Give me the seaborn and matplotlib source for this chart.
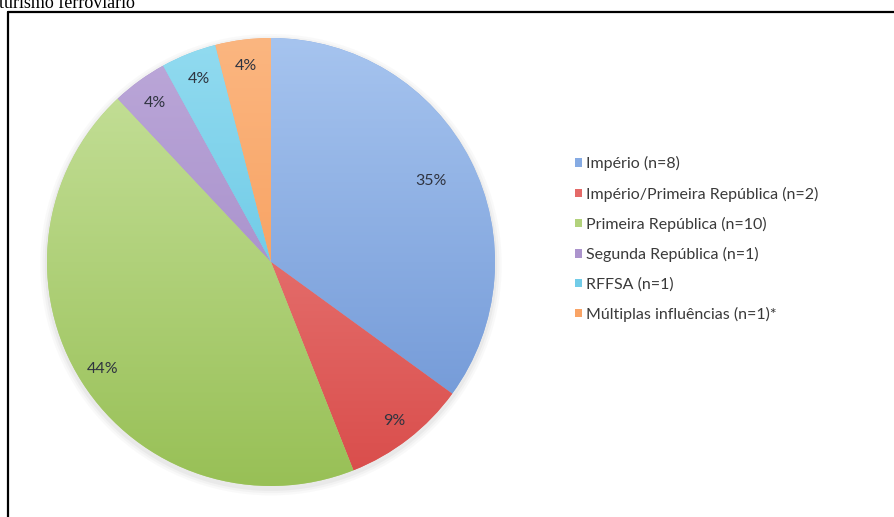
import numpy as np
import matplotlib
matplotlib.use("Agg")
import matplotlib.pyplot as plt
import seaborn as sns
from matplotlib.colors import LinearSegmentedColormap
from matplotlib.lines import Line2D
from matplotlib.patches import Circle

# =========================================================
# DATA
# =========================================================

labels = [
    "Império (n=8)",
    "Império/Primeira República (n=2)",
    "Primeira República (n=10)",
    "Segunda República (n=1)",
    "RFFSA (n=1)",
    "Múltiplas influências (n=1)*",
]
shares = [35, 9, 44, 4, 4, 4]

# light (top) / dark (bottom) shade per slice
light_colors = ["#A6C4EF", "#EE8C8A", "#C8E29E", "#BCA8D9", "#92DBF0", "#FBB680"]
dark_colors = ["#6A92D3", "#D94C4A", "#98C056", "#9A80C2", "#52BDDF", "#F6924A"]
mid_colors = ["#86ABE3", "#E46A68", "#B2D27C", "#AC94CD", "#72CCE8", "#F9A466"]

label_dist = [0.80, 0.90, 0.89, 0.88, 0.88, 0.88]

# =========================================================
# FIGURE
# =========================================================

sns.set_theme(style="white")
plt.rcParams["font.family"] = ["Lato", "DejaVu Sans"]

W, H = 894, 517
fig = plt.figure(figsize=(W / 100, H / 100), dpi=100)
fig.patch.set_facecolor("white")

cx, cy, R = 271, 262, 224
ax = fig.add_axes([(cx - R) / W, (H - cy - R) / H, 2 * R / W, 2 * R / H])

# soft shadow under the pie
for k, a in zip([1.030, 1.020, 1.010], [0.04, 0.05, 0.07]):
    ax.add_patch(Circle((0, -0.012), k, facecolor="#7a7a7a", edgecolor="none",
                        alpha=a, zorder=0.5, clip_on=False))

wedges, texts, autotexts = ax.pie(
    shares,
    colors=mid_colors,
    startangle=90,
    counterclock=False,
    autopct=lambda p: f"{p:.0f}%",
    pctdistance=0.88,
    wedgeprops=dict(linewidth=0),
    textprops=dict(fontsize=11.5, color="#2f3440"),
)

# vertical gradient inside each slice
grad = np.linspace(0, 1, 256).reshape(-1, 1)
for w, c_lo, c_hi in zip(wedges, dark_colors, light_colors):
    cmap = LinearSegmentedColormap.from_list("g", [c_lo, c_hi])
    im = ax.imshow(grad, cmap=cmap, extent=[-1, 1, -1, 1], origin="lower",
                   aspect="auto", zorder=1.5, interpolation="bilinear")
    im.set_clip_path(w)

# place the percent labels
for t, d in zip(autotexts, label_dist):
    x, y = t.get_position()
    r = np.hypot(x, y)
    t.set_position((x / r * d, y / r * d))
    t.set_zorder(3)

ax.set_xlim(-1, 1)
ax.set_ylim(-1, 1)
ax.set_aspect("equal")
ax.axis("off")

# legend
fig.legend(
    wedges, labels,
    loc="center left",
    bbox_to_anchor=(575 / W, 1 - 239 / H),
    frameon=False,
    fontsize=11.5,
    handlelength=0.45,
    handleheight=0.45,
    handletextpad=0.25,
    labelspacing=0.95,
    borderpad=0,
    borderaxespad=0,
    labelcolor="#3a3a3a",
)

# frame lines of the original page and cut-off caption
fig.add_artist(Line2D([7.5 / W, 7.5 / W], [0, 1 - 11.5 / H],
                      transform=fig.transFigure, color="black", lw=1.6))
fig.add_artist(Line2D([7.5 / W, 1], [1 - 11.5 / H, 1 - 11.5 / H],
                      transform=fig.transFigure, color="black", lw=1.6))
fig.text(-1 / W, 1 - 8 / H, "turismo ferroviário", family="Liberation Serif",
         fontsize=13, va="baseline", ha="left", color="black")

fig.savefig("out.png", dpi=100, facecolor="white")
